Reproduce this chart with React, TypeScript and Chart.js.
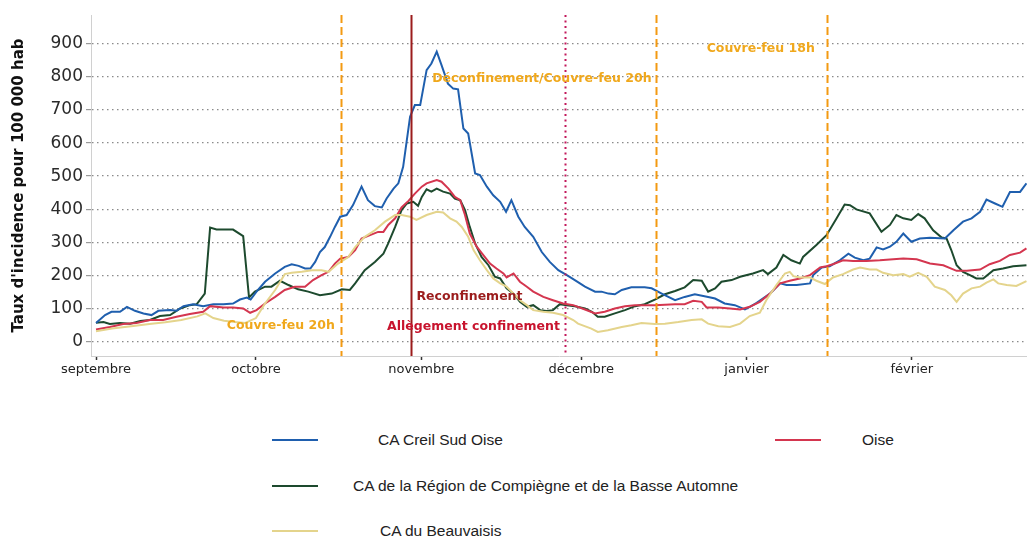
import React, { useEffect, useRef } from "react";
import { Chart, registerables } from "chart.js";

Chart.register(...registerables);

// ---- axis categories (day index from 1 September) ----
const monthStarts = [0, 30, 61, 91, 122, 153];
const monthLabels = ["septembre", "octobre", "novembre", "décembre", "janvier", "février"];
const yTicks = [0, 100, 200, 300, 400, 500, 600, 700, 800, 900];

// ---- series names ----
const seriesNames = [
  "CA Creil Sud Oise",
  "Oise",
  "CA de la Région de Compiègne et de la Basse Automne",
  "CA du Beauvaisis",
];

// ---- CA Creil Sud Oise ----
const creilDays = [
  0, 1.7, 2.9, 4.5, 5.8, 7.3, 8.9, 10.4, 11.7, 13.9,
  15.1, 16.4, 18.2, 20.1, 22, 23.9, 25.7, 27, 28.3, 29,
  30.1, 31.7, 33.6, 35.4, 36.7, 38, 39.2, 40.2, 41.1, 42,
  42.9, 43.9, 44.8, 45.8, 47, 48.2, 49.8, 51, 52.3, 53.6,
  54.5, 55.8, 56.7, 57.6, 58.9, 59.8, 60.8, 62, 62.9, 63.9,
  64.8, 66, 67, 67.9, 68.9, 69.8, 71.1, 72, 73.3, 74.5,
  75.8, 76.9, 77.9, 79.2, 80.4, 82, 83.6, 85.1, 86.7, 88.3,
  89.8, 91.7, 93.6, 94.8, 96.1, 97.3, 98.6, 100.4, 102.9, 104.2,
  106.1, 108.6, 110.4, 112.3, 114.8, 116.1, 117.9, 119.8, 121.7, 122.6,
  123.9, 126.4, 128.3, 129.5, 131.4, 133.9, 134.5, 136.1, 137.6, 139.5,
  141.1, 142.3, 143.9, 145.1, 146.4, 147.6, 148.9, 150.1, 151.4, 152.9,
  154.5, 156.4, 159.2, 160.8, 162.6, 164.2, 165.8, 167, 168.6, 170,
  171.4, 173.3, 174.5,
];
const creilValues = [
  55, 79, 89, 89, 104, 92, 84, 79, 92, 94,
  92, 106, 112, 106, 112, 112, 114, 126, 132, 126,
  150, 180, 205, 225, 233, 228, 220, 220, 240, 270,
  285, 316, 346, 377, 382, 412, 468, 427, 409, 405,
  432, 462, 478, 528, 680, 715, 715, 821, 841, 877,
  836, 780, 765, 763, 644, 629, 508, 503, 468, 442,
  422, 392, 427, 377, 346, 316, 270, 240, 215, 200,
  185, 165, 150, 150, 144, 142, 155, 163, 163, 160,
  144, 124, 134, 142, 134, 129, 114, 109, 96, 104,
  116, 144, 175, 170, 170, 175, 200, 223, 227, 245,
  265, 253, 245, 250, 284, 278, 286, 301, 326, 301,
  311, 313, 311, 336, 362, 372, 392, 429, 417, 407,
  452, 452, 478,
];

// ---- Oise ----
const oiseDays = [
  0, 2.6, 5.1, 7.6, 10.1, 12.6, 15.1, 17.6, 20.1, 21.4,
  23.9, 25.7, 27.6, 28.9, 30.1, 31.7, 33.6, 35.4, 37.3, 39.2,
  40.7, 42.3, 43.6, 44.8, 45.8, 47.3, 48.6, 49.8, 51.4, 52.9,
  53.9, 54.8, 56.1, 57.3, 58.6, 59.8, 61.1, 62, 63.9, 64.8,
  66.1, 67.3, 68.3, 69.2, 70.1, 71.4, 72.6, 73.9, 75.1, 76.4,
  77, 78.3, 79.5, 80.8, 82, 83.9, 85.7, 87.6, 89.5, 91.7,
  93.6, 95.4, 97.3, 99.2, 101.1, 104.8, 108.6, 110.4, 112, 113.6,
  114.5, 116.7, 118.9, 120.8, 122.6, 124.5, 126.4, 128.3, 130.1, 132,
  133.9, 135.8, 137, 138.2, 140.1, 142, 144.5, 147, 149.5, 151.4,
  153.9, 156.4, 158.9, 161.4, 163.3, 165.8, 167.6, 169.5, 171.4, 173.3,
  174.5,
];
const oiseValues = [
  35, 43, 52, 55, 64, 64, 74, 82, 89, 106,
  102, 102, 99, 86, 94, 114, 134, 155, 165, 165,
  185, 200, 210, 235, 250, 255, 276, 311, 321, 331,
  331, 352, 372, 405, 425, 447, 468, 478, 488, 483,
  462, 437, 427, 382, 326, 286, 261, 235, 220, 205,
  193, 205, 180, 165, 150, 134, 124, 114, 109, 96,
  84, 89, 99, 106, 109, 109, 112, 112, 122, 119,
  102, 102, 99, 96, 104, 119, 144, 175, 183, 190,
  200, 223, 227, 233, 245, 243, 243, 245, 248, 250,
  248, 235, 230, 213, 213, 217, 233, 243, 261, 268,
  281,
];

// ---- CA de la Région de Compiègne et de la Basse Automne ----
const compiegneDays = [
  0, 1.4, 2.6, 4.5, 6.4, 8.3, 10.1, 12, 13.9, 15.8,
  17.6, 18.9, 20.4, 21.4, 22.6, 25.7, 27.6, 28.7, 29.8, 31.7,
  32.9, 34.5, 36.1, 37.9, 39.8, 42, 44.2, 46.1, 47.6, 48.6,
  50.4, 52.3, 53.9, 54.8, 56.1, 57.3, 58.3, 59.5, 60.4, 61.1,
  62, 62.9, 63.9, 65.1, 66.4, 67.3, 68.3, 69.2, 70.1, 71.1,
  72.3, 73.6, 74.8, 75.8, 77, 78.3, 79.5, 80.8, 82, 83.3,
  84.5, 85.7, 87, 88.3, 89.8, 91.7, 93, 94.1, 95.4, 97.3,
  99.2, 101.1, 102.9, 104.8, 106.7, 108.6, 110.4, 112, 113.6, 114.8,
  116.1, 117.3, 119.2, 120.8, 123.2, 125.1, 126, 127.6, 128.9, 130.4,
  132, 132.6, 135.1, 137, 138.9, 140.4, 141.4, 142.6, 145.1, 147.3,
  148.9, 150.1, 151.4, 152.9, 154.2, 155.4, 157, 158.6, 159.5, 160.4,
  161.4, 162.6, 163.9, 165.1, 166.4, 168.3, 170.1, 172, 174.5,
];
const compiegneValues = [
  56, 58, 52, 55, 53, 61, 64, 76, 79, 99,
  109, 112, 144, 344, 338, 338, 318, 132, 150, 165,
  165, 183, 170, 157, 150, 139, 144, 157, 155, 175,
  215, 240, 265, 296, 346, 397, 417, 422, 410, 437,
  460, 453, 462, 453, 447, 432, 427, 397, 346, 296,
  255, 230, 195, 190, 160, 144, 119, 104, 109, 94,
  91, 94, 112, 109, 106, 99, 89, 74, 74, 84,
  94, 106, 112, 126, 142, 152, 163, 185, 183, 150,
  160, 180, 185, 195, 205, 215, 203, 223, 261, 245,
  235, 255, 291, 321, 372, 414, 412, 399, 387, 331,
  352, 382, 372, 367, 385, 372, 336, 314, 311, 276,
  230, 210, 200, 190, 190, 215, 220, 227, 230,
];

// ---- CA du Beauvaisis ----
const beauvaisDays = [
  0, 3, 7, 10, 13, 16, 19, 20.5, 22, 24,
  26, 28, 30, 31.7, 33.6, 35.4, 36.7, 38.6, 40.5, 42.3,
  43.6, 45.4, 47.3, 48.6, 50.4, 52.3, 54.2, 56.1, 57.3, 58.9,
  60.1, 62, 63.9, 65.1, 66.4, 67.6, 68.6, 69.8, 70.8, 72,
  73.3, 74.5, 75.8, 77, 78.3, 79.5, 80.8, 82, 83.9, 85.7,
  87.6, 89.5, 90.4, 92.9, 94.1, 96, 98.6, 100.4, 102.3, 104.8,
  106.7, 109.2, 111.7, 113.6, 114.8, 116.7, 118.9, 120.8, 122.6, 124.5,
  125.7, 127.6, 129.2, 130.1, 130.8, 132, 133.9, 135.1, 136.7, 138.2,
  140.1, 142, 143.3, 145.1, 146.4, 147.6, 149.5, 151.4, 152.6, 154.2,
  155.8, 157.3, 159.2, 160.4, 161.4, 162.6, 164.2, 165.8, 167, 168.3,
  169.2, 170.8, 172.6, 174.5,
];
const beauvaisValues = [
  30, 38, 46, 52, 57, 64, 75, 84, 70, 62,
  58, 55, 70, 114, 155, 203, 207, 210, 215, 215,
  210, 235, 255, 285, 316, 336, 362, 382, 382, 377,
  367, 382, 392, 390, 372, 362, 346, 316, 276, 245,
  215, 190, 175, 165, 144, 124, 109, 94, 89, 86,
  79, 64, 53, 38, 28, 33, 43, 48, 55, 52,
  53, 58, 64, 66, 53, 45, 43, 53, 76, 86,
  124, 170, 205, 210, 197, 193, 193, 183, 173, 193,
  203, 217, 223, 217, 217, 207, 200, 203, 195, 207,
  195, 165, 155, 139, 119, 144, 160, 165, 177, 187,
  175, 170, 167, 182,
];

// ---- styles ----
const seriesColors = ["#1f5fae", "#d4364f", "#1d4a2e", "#e4d48c"];
const FONT = '"DejaVu Sans", sans-serif';

// ---- event annotations (day index, value) ----
const eventLines = [
  { day: 46, color: "#f39a12", dash: [8, 4], width: 2 },
  { day: 59, color: "#9b1c1c", dash: [], width: 2 },
  { day: 88, color: "#c2185b", dash: [2, 3.5], width: 2 },
  { day: 105, color: "#f39a12", dash: [8, 4], width: 2 },
  { day: 137, color: "#f39a12", dash: [8, 4], width: 2 },
];
const eventLabels = [
  { text: "Couvre-feu 20h", day: 44.8, value: 48, align: "right", color: "#f0a81c" },
  { text: "Déconfinement/Couvre-feu 20h", day: 104.2, value: 794, align: "right", color: "#f0a81c" },
  { text: "Couvre-feu 18h", day: 134.8, value: 885, align: "right", color: "#f0a81c" },
  { text: "Reconfinement", day: 60.1, value: 136, align: "left", color: "#9b1c1c" },
  { text: "Allègement confinement", day: 87, value: 43, align: "right", color: "#c8142e" },
];

// ---- legend layout ----
const legendItems = [
  { series: 0, lineLeft: 272, textLeft: 378, y: 440 },
  { series: 1, lineLeft: 775, textLeft: 862, y: 440 },
  { series: 2, lineLeft: 272, textLeft: 353, y: 486 },
  { series: 3, lineLeft: 272, textLeft: 380, y: 531 },
];

const toPoints = (days: number[], values: number[]) =>
  days.map((d, i) => ({ x: d, y: values[i] }));

const eventsPlugin = {
  id: "events",
  afterDatasetsDraw(chart: any) {
    const { ctx, chartArea, scales } = chart;
    const x = scales.x;
    const y = scales.y;
    ctx.save();
    for (const ev of eventLines) {
      const px = Math.round(x.getPixelForValue(ev.day)) + 0.5;
      ctx.beginPath();
      ctx.setLineDash(ev.dash);
      ctx.lineWidth = ev.width;
      ctx.strokeStyle = ev.color;
      ctx.moveTo(px, chartArea.top);
      ctx.lineTo(px, chartArea.bottom);
      ctx.stroke();
    }
    ctx.setLineDash([]);
    ctx.font = `bold 12.5px ${FONT}`;
    ctx.textBaseline = "middle";
    for (const lb of eventLabels) {
      ctx.fillStyle = lb.color;
      ctx.textAlign = lb.align as CanvasTextAlign;
      ctx.fillText(lb.text, x.getPixelForValue(lb.day), y.getPixelForValue(lb.value));
    }
    ctx.restore();
  },
};

export default function App() {
  const canvasRef = useRef<HTMLCanvasElement | null>(null);

  useEffect(() => {
    if (!canvasRef.current) return;
    const seriesData = [
      toPoints(creilDays, creilValues),
      toPoints(oiseDays, oiseValues),
      toPoints(compiegneDays, compiegneValues),
      toPoints(beauvaisDays, beauvaisValues),
    ];
    // draw order: yellow, red, blue, green on top
    const order = [3, 1, 0, 2];
    const chart = new Chart(canvasRef.current, {
      type: "line",
      data: {
        datasets: order.map((i) => ({
          label: seriesNames[i],
          data: seriesData[i],
          borderColor: seriesColors[i],
          backgroundColor: seriesColors[i],
          borderWidth: 2,
          pointRadius: 0,
          tension: 0,
          fill: false,
        })),
      },
      options: {
        animation: false,
        responsive: true,
        maintainAspectRatio: false,
        parsing: false,
        layout: { padding: { top: 15, left: 0, right: 0, bottom: 0 } },
        plugins: {
          legend: { display: false },
          tooltip: { enabled: false },
        },
        scales: {
          x: {
            type: "linear",
            min: -0.94,
            max: 174.6,
            afterBuildTicks: (s: any) => {
              s.ticks = monthStarts.map((v) => ({ value: v }));
            },
            afterFit: (s: any) => {
              s.height = 34;
            },
            ticks: {
              autoSkip: false,
              maxRotation: 0,
              padding: 2,
              color: "#222",
              font: { family: FONT, size: 13 },
              callback: (v: any) => {
                const i = monthStarts.indexOf(Number(v));
                return i >= 0 ? monthLabels[i] : "";
              },
            },
            grid: {
              drawOnChartArea: false,
              drawTicks: true,
              tickLength: 4,
              tickColor: "#333",
              tickWidth: 1.5,
            },
            border: { display: true, color: "#d0d0d0", width: 1 },
          },
          y: {
            type: "linear",
            min: -45,
            max: 988,
            afterBuildTicks: (s: any) => {
              s.ticks = yTicks.map((v) => ({ value: v }));
            },
            afterFit: (s: any) => {
              s.width = 91;
            },
            ticks: {
              padding: 3,
              color: "#2a2a2a",
              font: { family: FONT, size: 17 },
            },
            grid: {
              color: "#8a8a8a",
              lineWidth: 1.2,
              drawTicks: true,
              tickLength: 5,
              tickColor: "#9a9a9a",
            },
            border: { display: true, color: "#d0d0d0", width: 1, dash: [1.5, 3.5] },
            title: {
              display: true,
              text: "Taux d'incidence pour 100 000 hab",
              color: "#111",
              font: { family: FONT, size: 15, weight: "bold" },
              padding: { top: 10, bottom: 0 },
            },
          },
        },
      },
      plugins: [eventsPlugin],
    } as any);
    return () => chart.destroy();
  }, []);

  return (
    <div
      style={{
        position: "absolute",
        left: 0,
        top: 0,
        width: 1027,
        height: 538,
        background: "#fff",
        overflow: "hidden",
      }}
    >
      <div style={{ position: "absolute", left: 0, top: 0, width: 1027, height: 390 }}>
        <canvas ref={canvasRef} />
      </div>
      {legendItems.map((it) => (
        <React.Fragment key={it.series}>
          <div
            style={{
              position: "absolute",
              left: it.lineLeft,
              top: it.y - 1,
              width: 46,
              height: 2,
              background: seriesColors[it.series],
            }}
          />
          <div
            style={{
              position: "absolute",
              left: it.textLeft,
              top: it.y - 10,
              height: 20,
              lineHeight: "20px",
              whiteSpace: "nowrap",
              fontFamily: '"Liberation Sans", Arial, sans-serif',
              fontSize: 15.5,
              color: "#222",
            }}
          >
            {seriesNames[it.series]}
          </div>
        </React.Fragment>
      ))}
    </div>
  );
}
